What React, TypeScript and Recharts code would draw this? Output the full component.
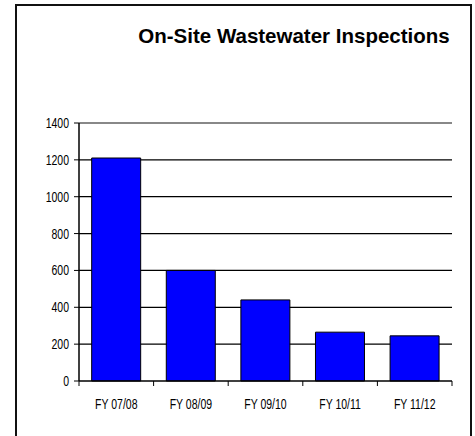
import React from "react";
import {
  BarChart,
  Bar,
  XAxis,
  YAxis,
  CartesianGrid,
  ReferenceLine,
} from "recharts";

const categories = ["FY 07/08", "FY 08/09", "FY 09/10", "FY 10/11", "FY 11/12"];
const inspections = [1210, 600, 440, 265, 245];
const yTicks = [0, 200, 400, 600, 800, 1000, 1200, 1400];
const gridValues = [200, 400, 600, 800, 1000, 1200];

const data = categories.map((c, i) => ({ name: c, value: inspections[i] }));

const FONT = "'Liberation Sans', Arial, sans-serif";

const XTick = (props: any) => {
  const { x, y, payload, index, visibleTicksCount } = props;
  const half = payload && payload.offset != null ? payload.offset : 37.3;
  const axisY = y - 8;
  return (
    <g>
      <line x1={x - half} x2={x - half} y1={axisY} y2={axisY + 5} stroke="#000" strokeWidth={1} />
      {index === (visibleTicksCount ?? categories.length) - 1 && (
        <line x1={x + half} x2={x + half} y1={axisY} y2={axisY + 5} stroke="#000" strokeWidth={1} />
      )}
      <text
        transform={`translate(${x},${axisY + 28}) scale(0.75,1)`}
        textAnchor="middle"
        fontFamily={FONT}
        fontSize={14}
        fill="#000"
      >
        {payload.value}
      </text>
    </g>
  );
};

const YTick = (props: any) => {
  const { x, y, payload } = props;
  const axisX = x + 6;
  return (
    <g>
      <line x1={axisX - 5} x2={axisX} y1={y} y2={y} stroke="#000" strokeWidth={1} />
      <text
        transform={`translate(${axisX - 10},${y + 5}) scale(0.75,1)`}
        textAnchor="end"
        fontFamily={FONT}
        fontSize={14}
        fill="#000"
      >
        {payload.value}
      </text>
    </g>
  );
};

export default function App() {
  return (
    <div style={{ position: "absolute", left: 0, top: 0, width: 475, height: 436, overflow: "hidden", background: "#fff" }}>
      <div
        style={{
          position: "absolute",
          left: 15,
          top: 4,
          width: 457,
          height: 460,
          border: "2px solid #111",
          boxSizing: "border-box",
        }}
      />
      <div
        style={{
          position: "absolute",
          left: 100,
          width: 388,
          top: 24,
          textAlign: "center",
          fontFamily: FONT,
          fontWeight: "bold",
          fontSize: 20.5,
          color: "#000",
        }}
      >
        On-Site Wastewater Inspections
      </div>
      <div style={{ position: "absolute", left: 0, top: 0 }}>
        <BarChart
          width={475}
          height={436}
          data={data}
          margin={{ top: 123, right: 23, bottom: 25, left: 0 }}
          barCategoryGap="17%"
        >
          <CartesianGrid
            vertical={false}
            horizontalValues={gridValues}
            stroke="#000"
            strokeWidth={1.3}
          />
          <ReferenceLine y={1400} stroke="#888" strokeWidth={2} ifOverflow="extendDomain" />
          <XAxis
            dataKey="name"
            height={30}
            axisLine={{ stroke: "#000", strokeWidth: 1.5 }}
            tickLine={false}
            tick={<XTick />}
            interval={0}
          />
          <YAxis
            width={79}
            domain={[0, 1400]}
            ticks={yTicks}
            interval={0}
            axisLine={{ stroke: "#000", strokeWidth: 1.5 }}
            tickLine={false}
            tickSize={0}
            tickMargin={6}
            tick={<YTick />}
          />
          <YAxis
            yAxisId="right"
            orientation="right"
            width={0}
            domain={[0, 1400]}
            tick={false}
            tickLine={false}
            axisLine={{ stroke: "#888", strokeWidth: 2 }}
          />
          <Bar dataKey="value" fill="#0000ff" stroke="#000" strokeWidth={1} isAnimationActive={false} />
        </BarChart>
      </div>
    </div>
  );
}
